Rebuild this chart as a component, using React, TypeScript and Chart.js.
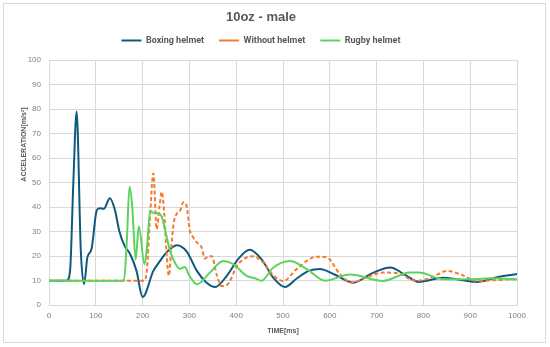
import React, { useEffect, useRef } from "react";
import { Chart, registerables } from "chart.js";

Chart.register(...registerables);

const seriesNames = ["Boxing helmet", "Without helmet", "Rugby helmet"];

const boxingTime = [0, 38, 45, 52, 59, 68, 75, 82, 91, 102, 108, 117, 130, 141, 150, 162, 173, 187, 200, 223, 237, 251, 273, 294, 316, 335, 355, 380, 405, 429, 455, 480, 504, 530, 555, 579, 610, 650, 690, 729, 760, 790, 842, 880, 914, 960, 1000];
const boxingAccel = [10, 10, 14, 50, 79, 22, 8.6, 19.5, 23, 38.7, 39.5, 39.3, 43.6, 38.7, 30.4, 24, 21, 14, 3.3, 14, 18, 21.5, 24.5, 22, 14, 9.5, 7.4, 12, 19, 22.6, 18.5, 11, 7.4, 11, 14, 14.8, 12.5, 9.2, 13, 15.4, 12.5, 9.5, 11.2, 10.3, 9.5, 11.5, 12.7];

const noHelmetTime = [0, 150, 203, 209, 215, 223, 230, 236, 241, 246, 251, 256, 262, 266, 273, 280, 287, 294, 301, 308, 316, 326, 333, 341, 348, 358, 369, 380, 404, 436, 458, 480, 501, 529, 572, 594, 622, 647, 680, 714, 745, 771, 786, 820, 850, 880, 914, 950, 1000];
const noHelmetAccel = [10, 10, 10, 14, 33, 53.8, 31, 40, 46.2, 38, 22, 12, 25, 33, 37.3, 38.5, 42, 40.5, 30.5, 27.7, 25.6, 23.6, 19, 20, 20, 12.6, 7.8, 8.2, 16.7, 20, 17.3, 12, 9.9, 14.7, 19.8, 19.5, 12.6, 9.2, 11.5, 13.3, 13, 10.7, 9.9, 11.5, 14, 12.5, 9.9, 10.2, 10.7];

const rugbyTime = [0, 160, 166, 172, 178, 185, 192, 204, 210, 216, 225, 232, 241, 250, 259, 270, 280, 290, 300, 316, 344, 372, 394, 422, 440, 454, 479, 515, 551, 590, 643, 714, 771, 790, 843, 900, 950, 1000];
const rugbyAccel = [10, 10, 25, 48.3, 40, 18.5, 32.2, 16.7, 25, 38.5, 37.5, 37.5, 36, 29, 22, 17, 14.8, 15.6, 12, 8.5, 13.3, 18, 16.7, 12, 11, 10, 15.3, 18, 14.7, 10, 12.5, 9.9, 13.3, 13.3, 10.6, 10.6, 11, 10.5];

const seriesColors = ["#10597c", "#f47a30", "#5cd35c"];

const titleText = "10oz - male";
const xTitle = "TIME[ms]";
const yTitle = "ACCELERATION[m/s²]";

export default function App() {
  const ref = useRef<HTMLCanvasElement>(null);

  useEffect(() => {
    const toPts = (t: number[], v: number[]) => t.map((x, i) => ({ x, y: v[i] }));

    const yTitlePlugin = {
      id: "yTitleCustom",
      afterDraw(chart: any) {
        const { ctx, chartArea } = chart;
        ctx.save();
        ctx.translate(chartArea.left - 25, chartArea.top + chartArea.height * 0.345);
        ctx.rotate(-Math.PI / 2);
        ctx.font = "bold 7px 'Liberation Sans', Arial, sans-serif";
        ctx.fillStyle = "#595959";
        ctx.textAlign = "center";
        ctx.textBaseline = "middle";
        ctx.fillText(yTitle, 0, 0);
        ctx.restore();
      },
    };

    const common = {
      pointRadius: 0,
      pointHoverRadius: 0,
      borderWidth: 2,
      fill: false,
      cubicInterpolationMode: "monotone" as const,
      pointStyle: "line" as const,
    };

    const chart = new Chart(ref.current as HTMLCanvasElement, {
      type: "line",
      data: {
        datasets: [
          {
            ...common,
            label: seriesNames[0],
            data: toPts(boxingTime, boxingAccel),
            borderColor: seriesColors[0],
            backgroundColor: seriesColors[0],
            order: 3,
          },
          {
            ...common,
            label: seriesNames[1],
            data: toPts(noHelmetTime, noHelmetAccel),
            borderColor: seriesColors[1],
            backgroundColor: seriesColors[1],
            borderDash: [4, 2.5],
            order: 2,
          },
          {
            ...common,
            label: seriesNames[2],
            data: toPts(rugbyTime, rugbyAccel),
            borderColor: seriesColors[2],
            backgroundColor: seriesColors[2],
            order: 1,
          },
        ],
      },
      options: {
        responsive: false,
        animation: false,
        layout: { padding: { left: 5, right: 33, top: 0, bottom: 11.8 } },
        plugins: {
          tooltip: { enabled: false },
          title: {
            display: true,
            text: titleText,
            color: "#595959",
            font: { family: "'Liberation Sans', Arial, sans-serif", size: 13, weight: "bold", lineHeight: 1 },
            padding: { top: 11, bottom: -3 },
          },
          subtitle: {
            display: true,
            text: "",
            position: "top",
            weight: 500,
            font: { size: 5, lineHeight: 1 },
            padding: 0,
          } as any,
          legend: {
            display: true,
            position: "top",
            labels: {
              usePointStyle: true,
              pointStyle: "line",
              pointStyleWidth: 20,
              boxHeight: 9,
              padding: 15,
              color: "#595959",
              font: { family: "Roboto, 'Liberation Sans', sans-serif", size: 9, weight: "bold" },
              sort: (a: any, b: any) => a.datasetIndex - b.datasetIndex,
            },
          },
        },
        scales: {
          x: {
            type: "linear",
            min: 0,
            max: 1000,
            ticks: {
              stepSize: 100,
              padding: 6,
              color: "#808080",
              font: { family: "'Liberation Sans', Arial, sans-serif", size: 8 },
              callback: (v: any) => String(v),
            },
            grid: { color: "#d9d9d9", drawTicks: false },
            border: { color: "#d9d9d9" },
            title: {
              display: true,
              text: xTitle,
              color: "#595959",
              font: { family: "'Liberation Sans', Arial, sans-serif", size: 7, weight: "bold" },
              padding: { top: 0, bottom: 0 },
            },
          },
          y: {
            min: 0,
            max: 100,
            afterFit: (scale: any) => {
              scale.width = 44;
            },
            ticks: {
              stepSize: 10,
              padding: 8,
              color: "#808080",
              font: { family: "'Liberation Sans', Arial, sans-serif", size: 8 },
            },
            grid: { color: "#d9d9d9", drawTicks: false },
            border: { color: "#d9d9d9" },
          },
        },
      },
      plugins: [yTitlePlugin],
    });
    return () => chart.destroy();
  }, []);

  return (
    <div style={{ position: "absolute", left: 0, top: 0, width: 550, height: 347, background: "#fff" }}>
      <canvas ref={ref} width={550} height={347} style={{ position: "absolute", left: 0, top: 0 }} />
      <div
        style={{
          position: "absolute",
          left: 3,
          top: 3,
          width: 541,
          height: 338,
          border: "1px solid #d9d9d9",
          pointerEvents: "none",
        }}
      />
    </div>
  );
}
